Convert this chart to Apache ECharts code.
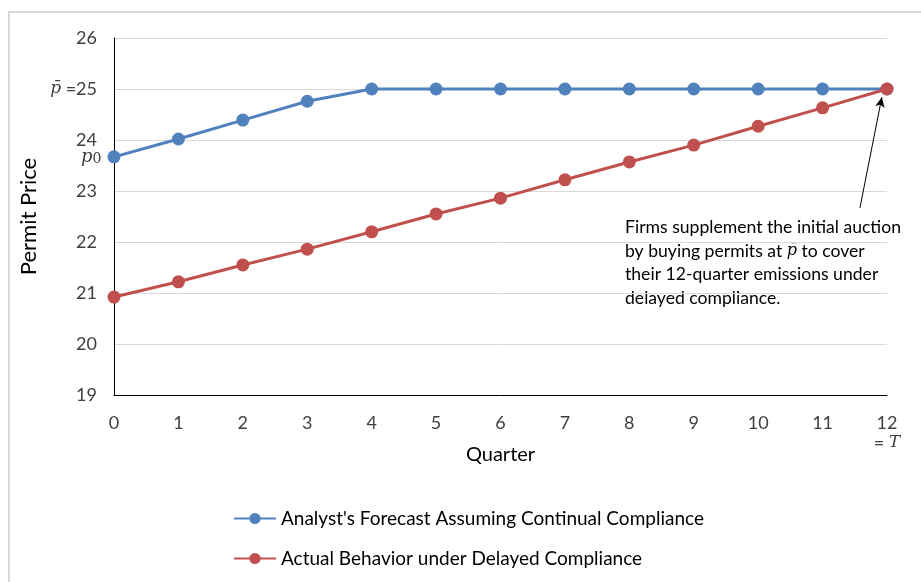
<!DOCTYPE html>
<html><head><meta charset="utf-8">
<script src="https://cdn.jsdelivr.net/npm/echarts@6/dist/echarts.min.js"></script>
<style>html,body{margin:0;padding:0;background:#fff}#c{width:921px;height:582px}</style>
</head><body><div id="c"></div>
<script>
const quarters = [0,1,2,3,4,5,6,7,8,9,10,11,12];
const forecast = [23.67,24.02,24.39,24.76,25,25,25,25,25,25,25,25,25];
const actual = [20.92,21.22,21.55,21.86,22.2,22.55,22.86,23.22,23.57,23.9,24.27,24.63,25];
const yTicks = [19,20,21,22,23,24,25,26];
const seriesNames = ["Analyst's Forecast Assuming Continual Compliance","Actual Behavior under Delayed Compliance"];
const note = ["Firms supplement the initial auction","by buying permits at {it|p̄} to cover","their 12-quarter emissions under","delayed compliance."];
const arrowFrom = [11.58, 22.67];
const arrowTo = [11.92, 24.84];

const FONT = 'Lato';
const chart = echarts.init(document.getElementById('c'));
chart.setOption({
  animation:false,
  textStyle:{fontFamily:FONT},
  graphic:[
    {type:'rect', shape:{x:9,y:12,width:930,height:600}, style:{fill:'none',stroke:'#d9d9d9',lineWidth:2}, silent:true},
    {type:'text', left:625, top:216, style:{
      text:note.join('\n'), fontFamily:FONT, fontSize:17.6, lineHeight:23.5, fill:'#000',
      rich:{it:{fontFamily:'DejaVu Serif',fontStyle:'italic',fontSize:16,fill:'#000'}}
    }}
  ],
  grid:{left:114,right:34,top:38,bottom:187},
  legend:{
    orient:'vertical', left:228, top:504, itemWidth:42, itemHeight:14, itemGap:21,
    textStyle:{fontSize:19,color:'#000',fontFamily:FONT},
    data:seriesNames
  },
  xAxis:{
    type:'value', min:0, max:12, interval:1,
    name:'Quarter', nameLocation:'middle', nameGap:50, nameMoveOverlap:false,
    nameTextStyle:{fontSize:20,color:'#000',fontFamily:FONT},
    axisLine:{show:true,lineStyle:{color:'#000',width:1}},
    axisTick:{show:false},
    splitLine:{show:false},
    axisLabel:{
      fontSize:18, color:'#404040', margin:18, lineHeight:20,
      formatter:function(v){ return v===12 ? '12\n{eq|= }{it|T}' : String(v); },
      rich:{eq:{fontSize:18,color:'#404040',fontFamily:FONT,lineHeight:20},it:{fontFamily:'DejaVu Serif',fontStyle:'italic',fontSize:17,color:'#404040',lineHeight:20}}
    }
  },
  yAxis:{
    type:'value', min:19, max:26, interval:1,
    name:'Permit Price', nameLocation:'middle', nameGap:74, nameMoveOverlap:false,
    nameTextStyle:{fontSize:22,color:'#000',fontFamily:FONT},
    axisLine:{show:true,lineStyle:{color:'#000',width:1}},
    axisTick:{show:false},
    splitLine:{show:true,lineStyle:{color:'#d9d9d9',width:1}},
    axisLabel:{
      fontSize:18, color:'#404040', margin:17,
      formatter:function(v){ return v===25 ? '{it|p̄} =25' : String(v); },
      rich:{it:{fontFamily:'DejaVu Serif',fontStyle:'italic',fontSize:17,color:'#404040'}}
    }
  },
  series:[
    {
      name:seriesNames[0], type:'line', symbol:'circle', symbolSize:13,
      lineStyle:{color:'#4F81BD',width:3}, itemStyle:{color:'#4F81BD'},
      data:quarters.map(function(q,i){
        const d = {value:[q,forecast[i]]};
        if(i===0){ d.label={show:true,position:'left',distance:6,formatter:'{p|p}{s|0}',
          rich:{p:{fontFamily:'DejaVu Serif',fontStyle:'italic',fontSize:18,color:'#404040'},s:{fontFamily:'DejaVu Serif',fontSize:14,color:'#404040',padding:[6,0,0,0]}}}; }
        return d;
      }),
      z:3
    },
    {
      name:seriesNames[1], type:'line', symbol:'circle', symbolSize:13,
      lineStyle:{color:'#C0504D',width:3}, itemStyle:{color:'#C0504D'},
      data:quarters.map(function(q,i){ return [q,actual[i]]; }),
      markLine:{
        silent:true, symbol:['none','arrow'], symbolSize:[7,10],
        lineStyle:{color:'#000',width:1,type:'solid'}, label:{show:false},
        data:[[{coord:arrowFrom},{coord:arrowTo}]]
      },
      z:4
    }
  ]
});
</script></body></html>
